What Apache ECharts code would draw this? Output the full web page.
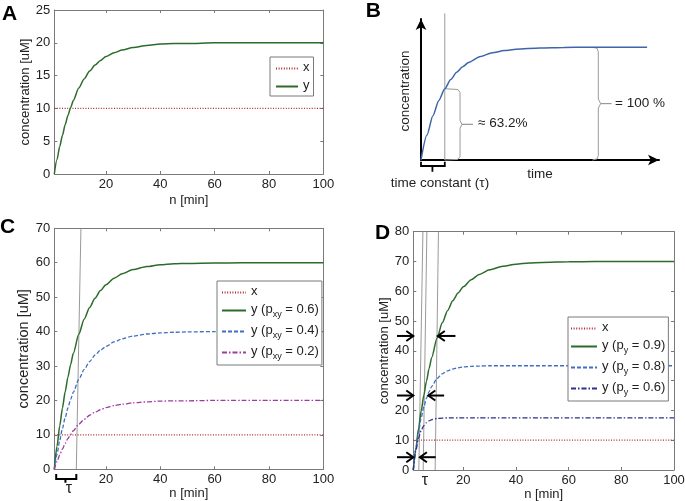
<!DOCTYPE html>
<html><head><meta charset="utf-8">
<script src="https://cdn.jsdelivr.net/npm/echarts@6/dist/echarts.min.js"></script>
<style>html,body{margin:0;padding:0;background:#fff}#c{width:685px;height:501px}</style>
</head><body><div id="c"></div>
<script>
// ---------- data ----------
const N = [1,2,3,4,5,6,7,8,10,12,14,16,18,20,23,26,30,35,40,45,50,60,70,80,90,100];
const inputN = [1,100];
const inputX = [10,10];
const yA   = [0,2.2,4.2,5.9,7.5,8.9,10.1,11.2,13.1,14.5,15.7,16.6,17.3,17.9,18.5,18.9,19.3,19.6,19.8,19.9,19.9,20,20,20,20,20];
const yC06 = [0,6.7,12.6,17.8,22.5,26.7,30.4,33.7,39.2,43.6,47.0,49.7,51.9,53.6,55.5,56.8,58.0,58.9,59.4,59.7,59.8,59.9,60,60,60,60];
const yC04 = [0,4.4,8.4,11.9,15.0,17.8,20.3,22.4,26.1,29.0,31.3,33.2,34.6,35.7,37.0,37.9,38.7,39.3,39.6,39.8,39.9,40,40,40,40,40];
const yC02 = [0,2.2,4.2,5.9,7.5,8.9,10.1,11.2,13.1,14.5,15.7,16.6,17.3,17.9,18.5,18.9,19.3,19.6,19.8,19.9,19.9,20,20,20,20,20];
const yD09 = [0,7.4,14.0,19.8,25.1,29.8,34.1,37.8,44.2,49.4,53.5,56.8,59.4,61.5,63.9,65.6,67.2,68.4,69.1,69.5,69.7,69.9,70,70,70,70];
const yD08 = [0,7.3,13.0,17.6,21.2,24.1,26.3,28.1,30.7,32.3,33.3,33.9,34.3,34.6,34.8,34.9,35,35,35,35,35,35,35,35,35,35];
const yD06 = [0,6.6,10.8,13.3,14.9,15.9,16.5,16.9,17.3,17.4,17.5,17.5,17.5,17.5,17.5,17.5,17.5,17.5,17.5,17.5,17.5,17.5,17.5,17.5,17.5,17.5];
const bTime = [0,0.25,0.5,0.75,1,1.25,1.5,1.75,2,2.5,3,3.5,4,5,6,7,8,9.5];
const bConc = [0,0.221,0.393,0.528,0.632,0.713,0.777,0.826,0.865,0.918,0.950,0.970,0.982,0.993,0.998,0.999,1,1];
const xTicks = [20,40,60,80,100];
// annotations (data coordinates)
const tauLineC = [[[9.1,0],[10.8,70]]];
const tauLinesD = [[[3.1,0],[4.65,80]],[[4.75,0],[6.15,80]],[[9.3,0],[10.55,80]]];
const bracketC = [[[1.7,-1.4],[1.7,-2.8],[5.1,-2.8],[5.1,-3.9],[5.1,-2.8],[9.1,-2.8],[9.1,-1.4]]];
const arrowsD = [
  [[-5.2,45],[1.0,45]], [[-5.2,25],[1.0,25]], [[-5.2,4.3],[1.0,4.3]],
  [[17.0,45],[10.3,45]], [[12.7,25],[6.7,25]], [[9.5,4.3],[3.5,4.3]]
];
const tauLineB = [[[1,0],[1,1.3]]];
const braceB = [
  [[1.0,0.632],[1.55,0.625],[1.64,0.6],[1.64,0.35],[1.72,0.316],[2.18,0.316],[1.72,0.316],[1.64,0.28],[1.64,0.03],[1.55,0.005],[1.0,0]],
  [[7.2,1],[7.4,0.99],[7.45,0.96],[7.45,0.54],[7.55,0.5],[8.0,0.5],[7.55,0.5],[7.45,0.46],[7.45,0.04],[7.4,0.01],[7.2,0]]
];
const bracketB = [[[0,-0.015],[0,-0.053],[0.48,-0.053],[0.48,-0.104],[0.48,-0.053],[1,-0.053],[1,-0.015]]];

// ---------- styles ----------
const FF = '"Liberation Sans", Arial, sans-serif';
const AX = '#7a7a7a';
const TXT = '#222';
const GREEN = '#2b6b2b', RED = '#b02a30', BLUE = '#3f6fbf', PURPLE = '#a03aa0', NAVY = '#2e2e8c', GRAY = '#9a9a9a';

const pair = (xs, ys) => xs.map((x, i) => [x, ys[i]]);

function boxX(grid, gap) {
  const common = {type:'value', gridIndex:grid, min:1, max:100,
    axisLine:{show:true, onZero:false, lineStyle:{color:AX}},
    axisTick:{show:true, inside:true, length:3, customValues:xTicks, lineStyle:{color:AX}},
    splitLine:{show:false}};
  return [
    Object.assign({}, common, {position:'bottom',
      axisLabel:{show:true, customValues:xTicks, color:TXT, fontSize:13, fontFamily:FF, margin:4},
      name:'n [min]', nameLocation:'middle', nameGap:gap,
      nameTextStyle:{color:TXT, fontSize:13, fontFamily:FF}}),
    Object.assign({}, common, {position:'top', axisLabel:{show:false}})
  ];
}
function boxY(grid, max, interval, gap, nsize) {
  const common = {type:'value', gridIndex:grid, min:0, max:max, interval:interval,
    axisLine:{show:true, onZero:false, lineStyle:{color:AX}},
    axisTick:{show:true, inside:true, length:3, lineStyle:{color:AX}},
    splitLine:{show:false}};
  return [
    Object.assign({}, common, {position:'left',
      axisLabel:{show:true, color:TXT, fontSize:13, fontFamily:FF, margin:4},
      name:'concentration [uM]', nameLocation:'middle', nameGap:gap,
      nameTextStyle:{color:TXT, fontSize:nsize, fontFamily:FF}}),
    Object.assign({}, common, {position:'right', axisLabel:{show:false}})
  ];
}
const bAxisLine = {show:true, onZero:false, symbol:['none','arrow'], symbolSize:[8,11], lineStyle:{color:'#000', width:2}};
const xAxes = [].concat(boxX(0, 20),
  [{type:'value', gridIndex:1, min:0, max:10, axisLine:bAxisLine, axisTick:{show:false}, axisLabel:{show:false}, splitLine:{show:false}}],
  boxX(2, 16), boxX(3, 16));
const yAxes = [].concat(boxY(0, 25, 5, 16, 13),
  [{type:'value', gridIndex:1, min:0, max:1.25, axisLine:bAxisLine, axisTick:{show:false}, axisLabel:{show:false}, splitLine:{show:false}}],
  boxY(2, 70, 10, 16, 14.5), boxY(3, 80, 10, 16, 13));

function lineS(name, xi, yi, data, color, type, width) {
  return {name:name, type:'line', xAxisIndex:xi, yAxisIndex:yi, data:data, symbol:'none',
    smooth:0.25, smoothMonotone:'x', silent:true, z:3,
    lineStyle:{color:color, type:type, width:width}, itemStyle:{color:color}};
}
function polyS(xi, yi, lines, color, width, z) {
  return {type:'custom', xAxisIndex:xi, yAxisIndex:yi, clip:false, silent:true, z:z || 2,
    data: lines.map(l => l[0]),
    renderItem: (params, api) => ({type:'polyline',
      shape:{points: lines[params.dataIndex].map(p => api.coord(p))},
      style:{stroke:color, lineWidth:width, fill:null}})};
}
function arrowS(xi, yi, arrows) {
  return {type:'custom', xAxisIndex:xi, yAxisIndex:yi, clip:false, silent:true, z:6,
    data: arrows.map(a => a[0]),
    renderItem: (params, api) => {
      const a = arrows[params.dataIndex];
      const p0 = api.coord(a[0]), p1 = api.coord(a[1]);
      const dx = p1[0]-p0[0], dy = p1[1]-p0[1], L = Math.hypot(dx, dy);
      const ux = dx/L, uy = dy/L, nx = -uy, ny = ux, hl = 7, hw = 5;
      return {type:'group', children:[
        {type:'line', shape:{x1:p0[0], y1:p0[1], x2:p1[0], y2:p1[1]}, style:{stroke:'#000', lineWidth:2}},
        {type:'polyline', shape:{points:[[p1[0]-hl*ux+hw*nx, p1[1]-hl*uy+hw*ny],[p1[0],p1[1]],[p1[0]-hl*ux-hw*nx, p1[1]-hl*uy-hw*ny]]},
          style:{stroke:'#000', lineWidth:2, fill:null}}
      ]};
    }};
}

const series = [
  lineS('A_x', 0, 0, pair(inputN, inputX), RED, [1,1.6], 1.3),
  lineS('A_y', 0, 0, pair(N, yA), GREEN, 'solid', 1.5),
  lineS('B_c', 2, 2, pair(bTime, bConc), '#3d65a9', 'solid', 1.5),
  polyS(2, 2, tauLineB, GRAY, 1),
  polyS(2, 2, braceB, GRAY, 1),
  polyS(2, 2, bracketB, '#000', 1.8),
  lineS('C_x', 3, 3, pair(inputN, inputX), RED, [1,1.6], 1.3),
  lineS('C_06', 3, 3, pair(N, yC06), GREEN, 'solid', 1.5),
  lineS('C_04', 3, 3, pair(N, yC04), BLUE, [4,2], 1.3),
  lineS('C_02', 3, 3, pair(N, yC02), PURPLE, [5,2,1.5,2], 1.3),
  polyS(3, 3, tauLineC, GRAY, 1),
  polyS(3, 3, bracketC, '#000', 2),
  lineS('D_x', 5, 5, pair(inputN, inputX), RED, [1,1.6], 1.3),
  lineS('D_09', 5, 5, pair(N, yD09), GREEN, 'solid', 1.5),
  lineS('D_08', 5, 5, pair(N, yD08), BLUE, [4,2], 1.3),
  lineS('D_06', 5, 5, pair(N, yD06), NAVY, [5,2,1.5,2], 1.3),
  polyS(5, 5, tauLinesD, GRAY, 1),
  arrowS(5, 5, arrowsD)
];

const legendLabels = {
  A_x:'{t|x}', A_y:'{t|y}',
  C_x:'{t|x}', C_06:'{t|y (p}{s|xy}{t| = 0.6)}', C_04:'{t|y (p}{s|xy}{t| = 0.4)}', C_02:'{t|y (p}{s|xy}{t| = 0.2)}',
  D_x:'{t|x}', D_09:'{t|y (p}{s|y}{t| = 0.9)}', D_08:'{t|y (p}{s|y}{t| = 0.8)}', D_06:'{t|y (p}{s|y}{t| = 0.6)}'
};
function legend(left, top, names, iw, gap, pad) {
  return {left:left, top:top, orient:'vertical', data:names, selectedMode:false,
    itemWidth:iw, itemHeight:2, itemGap:gap, padding:pad,
    itemStyle:{opacity:0, borderWidth:0},
    backgroundColor:'#fff', borderColor:AX, borderWidth:1, borderRadius:0,
    formatter: n => legendLabels[n],
    textStyle:{color:TXT, fontSize:13, fontFamily:FF,
      rich:{t:{color:TXT, fontSize:13, fontFamily:FF, lineHeight:15, verticalAlign:'top'},
            s:{color:TXT, fontSize:9, fontFamily:FF, lineHeight:10, padding:[7,0,0,0], verticalAlign:'top'}}}};
}

function txt(t, x, y, opts) {
  return Object.assign({type:'text', x:x, y:y, z:100, silent:true,
    style:{text:t, fill:(opts && opts.fill) || TXT, font:(opts && opts.font) || ('13.5px ' + FF),
      align:(opts && opts.align) || 'left', verticalAlign:'middle'}}, (opts && opts.rot) ? {rotation:opts.rot} : {});
}
const bold = 'bold 21px ' + FF;

const option = {
  animation:false,
  backgroundColor:'#fff',
  grid:[
    {left:54.3, top:10, width:269, height:164, containLabel:false, outerBoundsMode:'none'},
    {left:421, top:19, width:238, height:141, containLabel:false, outerBoundsMode:'none'},
    {left:54.3, top:228.3, width:269, height:241, containLabel:false, outerBoundsMode:'none'},
    {left:413.3, top:231.7, width:260.7, height:238.3, containLabel:false, outerBoundsMode:'none'}
  ],
  xAxis: xAxes,
  yAxis: yAxes,
  legend:[
    legend(270, 57, ['A_x','A_y'], 22, 5, [4,4,4,5]),
    legend(217, 281, ['C_x','C_06','C_04','C_02'], 24, 5, [4,3,4,4]),
    legend(568, 317, ['D_x','D_09','D_08','D_06'], 26, 5, [4,3,4,2])
  ],
  series: series,
  graphic: [
    txt('A', 2, 14.5, {font:bold, fill:'#000'}),
    txt('B', 365.7, 10.8, {font:bold, fill:'#000'}),
    txt('C', 0, 227.5, {font:bold, fill:'#000'}),
    txt('D', 375, 233.3, {font:bold, fill:'#000'}),
    txt('concentration', 405, 91, {align:'center', rot:Math.PI/2}),
    txt('time', 540, 174, {align:'center'}),
    txt('time constant (\u03c4)', 440, 183, {align:'center'}),
    txt('\u2248 63.2%', 478, 123, {}),
    txt('= 100 %', 615, 103.5, {}),
    txt('\u03c4', 69, 489, {align:'center', font:'16px ' + FF}),
    txt('\u03c4', 425, 481, {align:'center', font:'16px ' + FF})
  ]
};
const chart = echarts.init(document.getElementById('c'), null, {renderer:'canvas'});
chart.setOption(option);
</script></body></html>
